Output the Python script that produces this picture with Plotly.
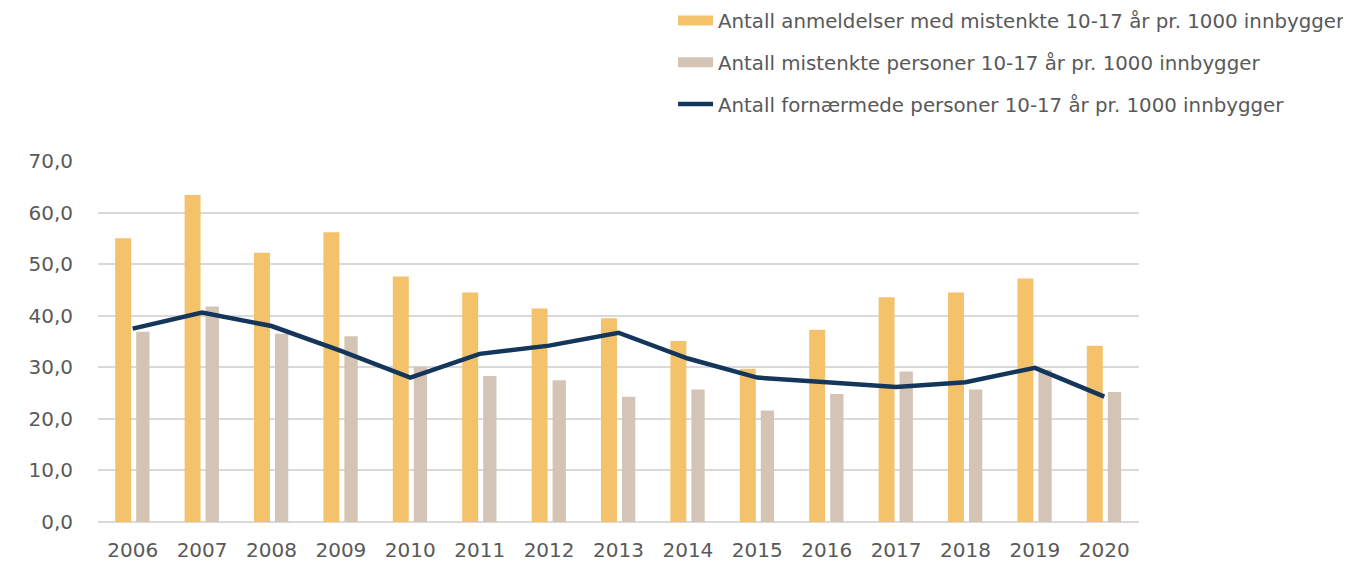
import plotly.graph_objects as go

years = ["2006", "2007", "2008", "2009", "2010", "2011", "2012", "2013",
         "2014", "2015", "2016", "2017", "2018", "2019", "2020"]
anmeldelser = [55.0, 63.4, 52.2, 56.2, 47.6, 44.5, 41.4, 39.5, 35.1, 29.7, 37.3, 43.6, 44.5, 47.2, 34.2]
mistenkte = [36.9, 41.8, 36.5, 36.0, 30.1, 28.3, 27.5, 24.3, 25.7, 21.6, 24.8, 29.2, 25.7, 29.5, 25.2]
fornaermede = [37.5, 40.6, 38.0, 33.2, 28.0, 32.6, 34.2, 36.7, 31.7, 28.0, 27.1, 26.2, 27.1, 29.9, 24.3]

names = ["Antall anmeldelser med mistenkte 10-17 år pr. 1000 innbygger",
         "Antall mistenkte personer 10-17 år pr. 1000 innbygger",
         "Antall fornærmede personer 10-17 år pr. 1000 innbygger"]
colors = ["#F3C26B", "#D3C4B5", "#13365A"]

FONT = "DejaVu Sans"
TXT = "#595959"

fig = go.Figure()
fig.add_trace(go.Bar(x=years, y=anmeldelser, name=names[0], marker_color=colors[0],
                     marker_line_width=0, width=0.23, offset=-0.252, showlegend=False))
fig.add_trace(go.Bar(x=years, y=mistenkte, name=names[1], marker_color=colors[1],
                     marker_line_width=0, width=0.192, offset=0.05, showlegend=False))
fig.add_trace(go.Scatter(x=years, y=fornaermede, name=names[2], mode="lines",
                         line=dict(color=colors[2], width=4.5), showlegend=False))

# legend entries (wide rectangles for the bar series, line for the line series)
for nm, col, w, grp in [(names[0], colors[0], 12, "a"), (names[1], colors[1], 12, "b"),
                        (names[2], colors[2], 4.5, "c")]:
    fig.add_trace(go.Scatter(x=[None], y=[None], name=nm, mode="lines",
                             line=dict(color=col, width=w), legendgroup=grp,
                             showlegend=True, hoverinfo="skip"))

fig.update_layout(
    width=1343, height=554,
    margin=dict(l=90, r=212, t=153, b=40, autoexpand=False),
    paper_bgcolor="white", plot_bgcolor="white",
    separators=", ",
    font=dict(family=FONT, size=20, color=TXT),
    barmode="overlay",
    showlegend=True,
    legend=dict(x=0.5524, y=1.443, xanchor="left", yanchor="top",
                traceorder="grouped", tracegroupgap=13,
                font=dict(family=FONT, size=19.8, color=TXT),
                bgcolor="rgba(0,0,0,0)", itemwidth=35),
    xaxis=dict(type="category", range=[-0.5, 14.5], showgrid=False,
               showline=False, ticks="", ticklabelstandoff=14,
               tickfont=dict(size=20, color=TXT)),
    yaxis=dict(range=[0, 70], dtick=10, tickformat=".1f", showgrid=True,
               gridcolor="#D9D9D9", gridwidth=1.5, zeroline=True,
               zerolinecolor="#D9D9D9", zerolinewidth=1.5, showline=False,
               ticks="", ticklabelstandoff=24, tickfont=dict(size=20, color=TXT)),
)

fig.write_html("out.html")
